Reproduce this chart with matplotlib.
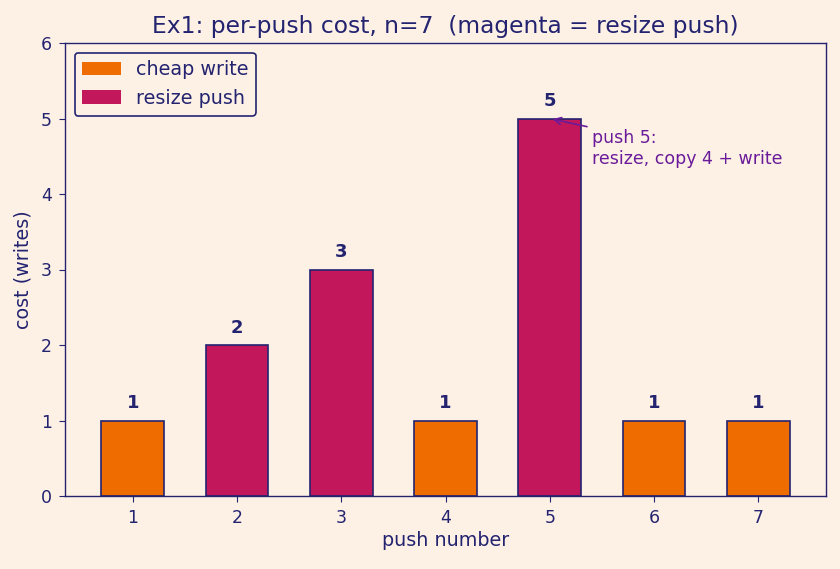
import matplotlib
matplotlib.use("Agg")
from matplotlib import pyplot as plt
from matplotlib.patches import Patch

pushes = [1, 2, 3, 4, 5, 6, 7]
costs = [1, 2, 3, 1, 5, 1, 1]
is_resize = [False, True, True, False, True, False, False]

bg = "#fdf1e6"
navy = "#232370"
orange = "#ef6c00"
magenta = "#c2185b"
purple = "#6a1b9a"

plt.rcParams['font.family'] = ['DejaVu Sans']

fig = plt.figure(figsize=(8.4, 5.69), dpi=100, facecolor=bg)
ax = fig.add_axes([65 / 840, 1 - 496 / 569, (826 - 65) / 840, (496 - 43) / 569])
ax.set_facecolor(bg)

colors = [magenta if r else orange for r in is_resize]
ax.bar(pushes, costs, width=0.6, color=colors, edgecolor=navy, linewidth=1.2)

for x, c in zip(pushes, costs):
    ax.text(x, c + 0.11, str(c), ha='center', va='bottom', fontsize=13,
            fontweight='bold', color=navy)

ax.annotate("push 5:\nresize, copy 4 + write", xy=(5.0, 5.0), xytext=(5.41, 4.6),
            fontsize=12.5, color=purple, va='center', ha='left',
            arrowprops=dict(arrowstyle='->', color=purple, lw=1.2))

ax.set_xlim(0.35, 7.65)
ax.set_ylim(0, 6)
ax.set_xticks(pushes)
ax.set_yticks(range(0, 7))
ax.tick_params(colors=navy, labelsize=12.5, labelcolor=navy, length=4.5, pad=5)
for s in ax.spines.values():
    s.set_color(navy)
    s.set_linewidth(1.0)

ax.set_title("Ex1: per-push cost, n=7  (magenta = resize push)", fontsize=16.8,
             color=navy, pad=7)
ax.set_xlabel("push number", fontsize=13.8, color=navy, labelpad=3)
ax.set_ylabel("cost (writes)", fontsize=13.8, color=navy, labelpad=6)

handles = [Patch(facecolor=orange, label='cheap write'),
           Patch(facecolor=magenta, label='resize push')]
leg = ax.legend(handles=handles, loc='upper left', fontsize=13.8, facecolor=bg,
                edgecolor=navy, framealpha=1, labelcolor=navy)
leg.get_frame().set_linewidth(1.2)

fig.savefig("out.png", dpi=100, facecolor=bg)
